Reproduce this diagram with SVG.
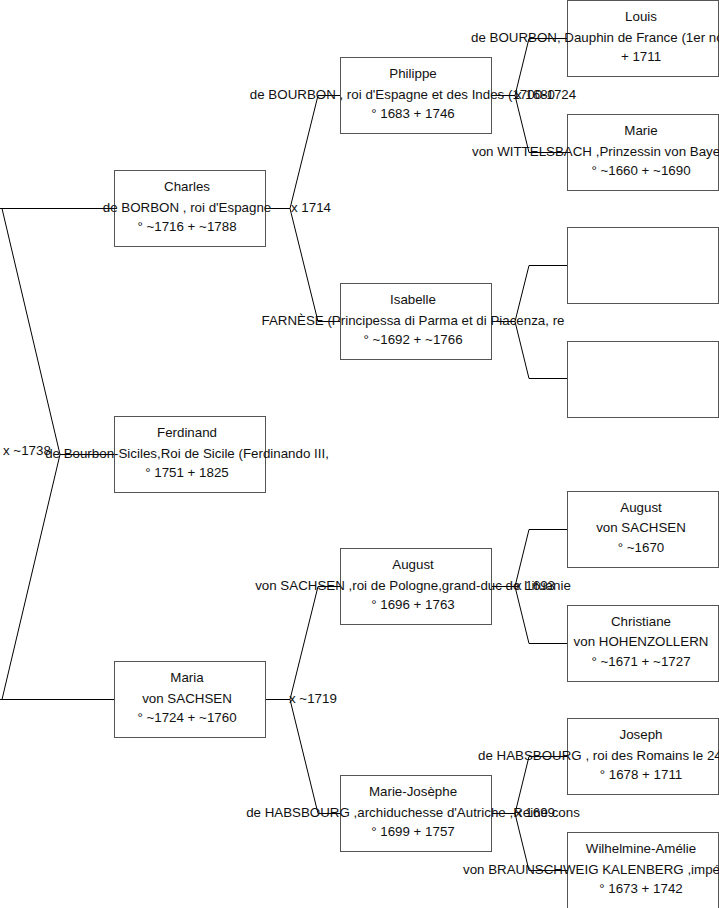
<svg xmlns="http://www.w3.org/2000/svg" width="719" height="908" viewBox="0 0 719 908">
<style>
.box{fill:#fff;stroke:#555;stroke-width:1}
.ln{fill:none;stroke:#000;stroke-width:1}
text{font-family:"Liberation Sans",Arial,sans-serif;font-size:13.33px;fill:#111}
.c{text-anchor:middle}
</style>
<rect width="719" height="908" fill="#fff"/>
<g id="connectors">
<path class="ln" d="M0,208.5 H114 M2,208.5 L60,454.5 L2,699.5 M0,699.5 H114 M60,454.5 H114"/>
<path class="ln" d="M265,208.5 H290 M318,95.5 L290,208.5 L318,321.5 M318,95.5 H340 M318,321.5 H340"/>
<path class="ln" d="M265,699.5 H290 M318,586.5 L290,699.5 L318,813.5 M318,586.5 H340 M318,813.5 H340"/>
<path class="ln" d="M492,95.5 H515 M529,38.5 L515,95.5 L529,152.5 M529,38.5 H567 M529,152.5 H567"/>
<path class="ln" d="M492,321.5 H515 M529,265.5 L515,321.5 L529,378.5 M529,265.5 H567 M529,378.5 H567"/>
<path class="ln" d="M492,586.5 H515 M529,529.5 L515,586.5 L529,643.5 M529,529.5 H567 M529,643.5 H567"/>
<path class="ln" d="M492,813.5 H515 M529,756.5 L515,813.5 L529,870.5 M529,756.5 H567 M529,870.5 H567"/>
</g>
<g id="charles">
<rect class="box" x="114.5" y="170.5" width="151" height="76"/>
<text class="c" x="187" y="191">Charles</text>
<text class="c" x="187" y="212">de BORBON , roi d'Espagne</text>
<text class="c" x="187" y="231">° ~1716 + ~1788</text>
</g>
<g id="ferdinand">
<rect class="box" x="114.5" y="416.5" width="151" height="76"/>
<text class="c" x="187" y="437">Ferdinand</text>
<text class="c" x="187" y="458">de Bourbon-Siciles,Roi de Sicile (Ferdinando III, </text>
<text class="c" x="187" y="477">° 1751 + 1825</text>
</g>
<g id="maria">
<rect class="box" x="114.5" y="661.5" width="151" height="76"/>
<text class="c" x="187" y="682">Maria</text>
<text class="c" x="187" y="703">von SACHSEN</text>
<text class="c" x="187" y="722">° ~1724 + ~1760</text>
</g>
<g id="philippe">
<rect class="box" x="340.5" y="57.5" width="151" height="76"/>
<text class="c" x="413" y="78">Philippe</text>
<text class="c" x="413" y="99">de BOURBON , roi d'Espagne et des Indes (1700-1724</text>
<text class="c" x="413" y="118">° 1683 + 1746</text>
</g>
<g id="isabelle">
<rect class="box" x="340.5" y="283.5" width="151" height="76"/>
<text class="c" x="413" y="304">Isabelle</text>
<text class="c" x="413" y="325">FARNÈSE  (Principessa di Parma et di Piacenza, re</text>
<text class="c" x="413" y="344">° ~1692 + ~1766</text>
</g>
<g id="august">
<rect class="box" x="340.5" y="548.5" width="151" height="76"/>
<text class="c" x="413" y="569">August</text>
<text class="c" x="413" y="590">von SACHSEN ,roi de Pologne,grand-duc de Lituanie</text>
<text class="c" x="413" y="609">° 1696 + 1763</text>
</g>
<g id="marie-josephe">
<rect class="box" x="340.5" y="775.5" width="151" height="76"/>
<text class="c" x="413" y="796">Marie-Josèphe</text>
<text class="c" x="413" y="817">de HABSBOURG ,archiduchesse d'Autriche ,Reine cons</text>
<text class="c" x="413" y="836">° 1699 + 1757</text>
</g>
<g id="louis">
<rect class="box" x="567.5" y="0.5" width="151" height="76"/>
<text class="c" x="641" y="21">Louis</text>
<text x="471" y="42">de BOURBON, Dauphin de France (1er nommé Grand Dau</text>
<text class="c" x="641" y="61">+ 1711</text>
</g>
<g id="marie-w">
<rect class="box" x="567.5" y="114.5" width="151" height="76"/>
<text class="c" x="641" y="135">Marie</text>
<text x="472" y="156">von WITTELSBACH ,Prinzessin von Bayern (Maria Anna</text>
<text class="c" x="641" y="175">° ~1660 + ~1690</text>
</g>
<g id="empty1">
<rect class="box" x="567.5" y="227.5" width="151" height="76"/>
</g>
<g id="empty2">
<rect class="box" x="567.5" y="341.5" width="151" height="76"/>
</g>
<g id="august-s">
<rect class="box" x="567.5" y="491.5" width="151" height="76"/>
<text class="c" x="641" y="512">August</text>
<text class="c" x="641" y="532">von SACHSEN</text>
<text class="c" x="641" y="552">° ~1670</text>
</g>
<g id="christiane">
<rect class="box" x="567.5" y="605.5" width="151" height="76"/>
<text class="c" x="641" y="626">Christiane</text>
<text class="c" x="641" y="646">von HOHENZOLLERN</text>
<text class="c" x="641" y="666">° ~1671 + ~1727</text>
</g>
<g id="joseph">
<rect class="box" x="567.5" y="718.5" width="151" height="76"/>
<text class="c" x="641" y="739">Joseph</text>
<text x="478" y="760">de HABSBOURG , roi des Romains le 24 janvier 1690,</text>
<text class="c" x="641" y="779">° 1678 + 1711</text>
</g>
<g id="wilhelmine">
<rect class="box" x="567.5" y="832.5" width="151" height="76"/>
<text class="c" x="641" y="853">Wilhelmine-Amélie</text>
<text x="463" y="874">von BRAUNSCHWEIG KALENBERG ,impératrice romaine ge</text>
<text class="c" x="641" y="893">° 1673 + 1742</text>
</g>
<g id="marriage-labels">
<text x="3" y="455">x ~1738</text>
<text x="291" y="212">x 1714</text>
<text x="289" y="703">x ~1719</text>
<text x="515" y="99">x 1680</text>
<text x="515" y="590">x 1693</text>
<text x="515" y="817">x 1699</text>
</g>
</svg>
